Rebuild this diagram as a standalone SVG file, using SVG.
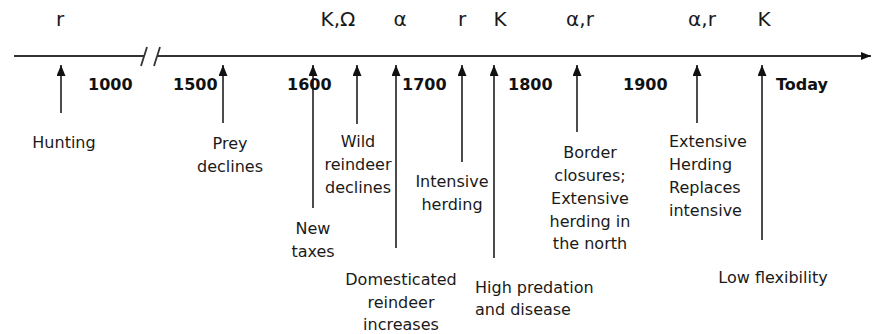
<svg xmlns="http://www.w3.org/2000/svg" width="872" height="334" viewBox="0 0 872 334">
<style>
text{font-family:"DejaVu Sans","Liberation Sans",sans-serif;fill:#1a1a1a}
.top{font-size:20px;text-anchor:middle}
.yr{font-size:16px;font-weight:bold;fill:#111}
.lbl{font-size:16px;text-anchor:middle}
.lft{font-size:16px;text-anchor:start}
.arr{stroke:#111;stroke-width:1.5;fill:none;marker-end:url(#ah)}
.axis{stroke:#333;stroke-width:1.8;fill:none}
</style>
<defs>
<marker id="ah" markerUnits="userSpaceOnUse" markerWidth="9" markerHeight="11" refX="4.5" refY="0" orient="0" viewBox="0 0 9 11">
<path d="M4.5,0 L9,11 L0,11 z" fill="#111"/>
</marker>
<marker id="axh" markerUnits="userSpaceOnUse" markerWidth="10" markerHeight="8" refX="10" refY="4" orient="auto" viewBox="0 0 10 8">
<path d="M0,0 L10,4 L0,8 z" fill="#111"/>
</marker>
</defs>
<g id="axis">
<line class="axis" x1="14" y1="56" x2="144" y2="56"/>
<line class="axis" x1="157" y1="56" x2="871" y2="56" marker-end="url(#axh)"/>
<line class="axis" x1="141" y1="66" x2="147" y2="47"/>
<line class="axis" x1="154" y1="66" x2="160" y2="47"/>
</g>
<g id="top-labels">
<text class="top" x="60" y="26">r</text>
<text class="top" x="338" y="26">K,Ω</text>
<text class="top" x="400" y="26">α</text>
<text class="top" x="462" y="26">r</text>
<text class="top" x="500" y="26">K</text>
<text class="top" x="580" y="26">α,r</text>
<text class="top" x="702" y="26">α,r</text>
<text class="top" x="764" y="26">K</text>
</g>
<g id="years">
<text class="yr" x="88" y="90">1000</text>
<text class="yr" x="173" y="90">1500</text>
<text class="yr" x="287" y="90">1600</text>
<text class="yr" x="402" y="90">1700</text>
<text class="yr" x="508" y="90">1800</text>
<text class="yr" x="623" y="90">1900</text>
<text class="yr" x="776" y="90">Today</text>
</g>
<g id="connectors">
<line class="arr" x1="61" y1="113" x2="61" y2="65"/>
<line class="arr" x1="223" y1="123" x2="223" y2="65"/>
<line class="arr" x1="313" y1="208" x2="313" y2="65"/>
<line class="arr" x1="357" y1="124" x2="357" y2="65"/>
<line class="arr" x1="396" y1="248" x2="396" y2="65"/>
<line class="arr" x1="462" y1="162" x2="462" y2="65"/>
<line class="arr" x1="494" y1="258" x2="494" y2="65"/>
<line class="arr" x1="577" y1="132" x2="577" y2="65"/>
<line class="arr" x1="697" y1="123" x2="697" y2="65"/>
<line class="arr" x1="762" y1="240" x2="762" y2="65"/>
</g>
<g id="n-hunting"><text class="lbl" x="64" y="148">Hunting</text></g>
<g id="n-prey"><text class="lbl" x="230" y="149">Prey</text><text class="lbl" x="230" y="172">declines</text></g>
<g id="n-taxes"><text class="lbl" x="313" y="234">New</text><text class="lbl" x="313" y="257">taxes</text></g>
<g id="n-wild"><text class="lbl" x="358" y="147">Wild</text><text class="lbl" x="358" y="170">reindeer</text><text class="lbl" x="358" y="193">declines</text></g>
<g id="n-domesticated"><text class="lbl" x="401" y="285">Domesticated</text><text class="lbl" x="401" y="308">reindeer</text><text class="lbl" x="401" y="330">increases</text></g>
<g id="n-intensive"><text class="lbl" x="452" y="187">Intensive</text><text class="lbl" x="452" y="210">herding</text></g>
<g id="n-predation"><text class="lft" x="475" y="293">High predation</text><text class="lft" x="475" y="315">and disease</text></g>
<g id="n-border"><text class="lbl" x="590" y="158">Border</text><text class="lbl" x="590" y="181">closures;</text><text class="lbl" x="590" y="204">Extensive</text><text class="lbl" x="590" y="227">herding in</text><text class="lbl" x="590" y="249">the north</text></g>
<g id="n-extensive"><text class="lft" x="669" y="147">Extensive</text><text class="lft" x="669" y="170">Herding</text><text class="lft" x="669" y="193">Replaces</text><text class="lft" x="669" y="216">intensive</text></g>
<g id="n-low"><text class="lbl" x="773" y="283">Low flexibility</text></g>
</svg>
